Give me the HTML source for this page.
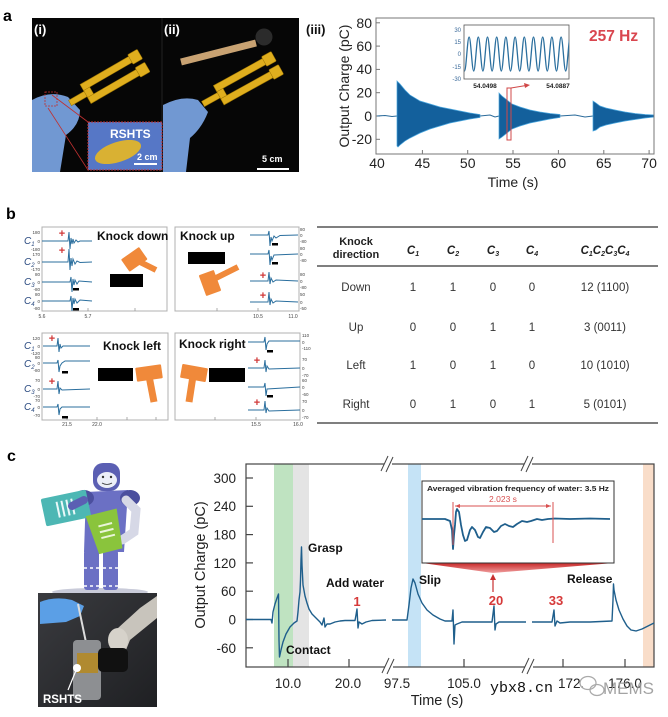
<!DOCTYPE html>
<html><head><meta charset="utf-8"><style>
html,body{margin:0;padding:0;background:#fff;}
svg{display:block;font-family:"Liberation Sans",Arial,sans-serif;}
</style></head><body>
<svg width="668" height="717" viewBox="0 0 668 717" xmlns="http://www.w3.org/2000/svg">
<defs>
<clipPath id="insA"><rect x="464" y="25" width="105" height="54"/></clipPath>
<linearGradient id="fan" x1="0" y1="0" x2="0" y2="1"><stop offset="0" stop-color="#c82828"/><stop offset="1" stop-color="#f0a0a0"/></linearGradient>
<linearGradient id="photoC" x1="0" y1="0" x2="1" y2="1"><stop offset="0" stop-color="#3a3b3f"/><stop offset="1" stop-color="#1f2023"/></linearGradient>
</defs>
<rect width="668" height="717" fill="#fff"/>

<!-- panel labels -->
<text x="3" y="21" font-size="16" font-weight="bold">a</text>
<text x="6" y="219" font-size="16" font-weight="bold">b</text>
<text x="7" y="461" font-size="16" font-weight="bold">c</text>

<!-- ===== Photo a ===== -->
<rect x="32" y="18" width="267" height="154" fill="#060606"/>
<line x1="162" y1="18" x2="162" y2="172" stroke="#222" stroke-width="1"/>
<!-- glove i -->
<path d="M32,100 Q50,90 68,97 L80,110 Q80,125 66,135 L60,172 L32,172Z" fill="#7198d2"/>
<!-- fork i -->
<g transform="translate(70,103) rotate(-30)" fill="#dfae1e" stroke="#9a7200" stroke-width="0.5">
<rect x="0" y="-3" width="20" height="6"/>
<rect x="18" y="-11" width="7" height="22"/>
<rect x="18" y="-11" width="64" height="7"/>
<rect x="18" y="4" width="64" height="7"/>
<rect x="74" y="-13" width="11" height="11" rx="1"/>
<rect x="74" y="2" width="11" height="11" rx="1"/>
</g>
<!-- inset i -->
<line x1="52" y1="95" x2="88" y2="122" stroke="#c03030" stroke-width="0.8"/>
<line x1="48" y1="108" x2="88" y2="170" stroke="#c03030" stroke-width="0.8"/>
<rect x="45" y="92" width="12" height="14" fill="none" stroke="#c03030" stroke-width="0.8" stroke-dasharray="2,1"/>
<rect x="88" y="122" width="74" height="48" fill="#5677c6"/>
<ellipse cx="118" cy="152" rx="24" ry="10" transform="rotate(-18 118 152)" fill="#d9b133"/>
<rect x="88" y="122" width="74" height="48" fill="none" stroke="#c03030" stroke-width="1" stroke-dasharray="2,1"/>
<text x="110" y="138" font-size="12" font-weight="bold" fill="#fff">RSHTS</text>
<text x="137" y="160" font-size="9" font-weight="bold" fill="#fff">2 cm</text>
<line x1="134" y1="164" x2="157" y2="164" stroke="#fff" stroke-width="2"/>
<!-- glove ii -->
<path d="M163,105 Q182,95 198,100 L208,112 Q202,128 190,138 L186,172 L163,172Z" fill="#7198d2"/>
<!-- fork ii -->
<g transform="translate(203,104) rotate(-29)" fill="#dfae1e" stroke="#9a7200" stroke-width="0.5">
<rect x="0" y="-3" width="20" height="6"/>
<rect x="18" y="-11" width="7" height="22"/>
<rect x="18" y="-11" width="64" height="7"/>
<rect x="18" y="4" width="64" height="7"/>
<rect x="74" y="-13" width="11" height="11" rx="1"/>
<rect x="74" y="2" width="11" height="11" rx="1"/>
</g>
<line x1="181" y1="62" x2="256" y2="43" stroke="#c8a272" stroke-width="7"/>
<circle cx="264" cy="37" r="8.5" fill="#2b2b2b"/>
<text x="262" y="162" font-size="9" font-weight="bold" fill="#fff">5 cm</text>
<line x1="257" y1="169" x2="289" y2="169" stroke="#fff" stroke-width="2"/>
<text x="34" y="34" font-size="13" font-weight="bold" fill="#fff">(i)</text>
<text x="164" y="34" font-size="13" font-weight="bold" fill="#fff">(ii)</text>
<text x="306" y="34" font-size="13" font-weight="bold" fill="#111">(iii)</text>

<!-- ===== Chart a(iii) ===== -->
<g font-size="14" fill="#222">
<text x="372" y="28" text-anchor="end">80</text>
<text x="372" y="51" text-anchor="end">60</text>
<text x="372" y="74" text-anchor="end">40</text>
<text x="372" y="97.5" text-anchor="end">20</text>
<text x="372" y="121" text-anchor="end">0</text>
<text x="372" y="144" text-anchor="end">-20</text>
<text x="377" y="168" text-anchor="middle">40</text>
<text x="422.4" y="168" text-anchor="middle">45</text>
<text x="467.7" y="168" text-anchor="middle">50</text>
<text x="513" y="168" text-anchor="middle">55</text>
<text x="558.4" y="168" text-anchor="middle">60</text>
<text x="603.8" y="168" text-anchor="middle">65</text>
<text x="649.1" y="168" text-anchor="middle">70</text>
<text x="513" y="187" text-anchor="middle">Time (s)</text>
<text x="349" y="86" text-anchor="middle" transform="rotate(-90 349 86)">Output Charge (pC)</text>
</g>
<g stroke="#777" stroke-width="1">
<line x1="376" y1="22.8" x2="380" y2="22.8"/><line x1="376" y1="46.1" x2="380" y2="46.1"/>
<line x1="376" y1="69.4" x2="380" y2="69.4"/><line x1="376" y1="92.7" x2="380" y2="92.7"/>
<line x1="376" y1="116" x2="380" y2="116"/><line x1="376" y1="139.3" x2="380" y2="139.3"/>
<line x1="422.4" y1="154" x2="422.4" y2="150"/><line x1="467.7" y1="154" x2="467.7" y2="150"/>
<line x1="513" y1="154" x2="513" y2="150"/><line x1="558.4" y1="154" x2="558.4" y2="150"/>
<line x1="603.8" y1="154" x2="603.8" y2="150"/><line x1="649.1" y1="154" x2="649.1" y2="150"/>
</g>
<path d="M377,116 L385,115.5 L392,116.5 L397,116 M480,116 L490,115 L495,117 L499,116 M560,116 L575,115 L585,117 L593,116" stroke="#2a6a9a" stroke-width="1" fill="none"/>
<g fill="#13609c" stroke="#4aa6de" stroke-width="0.7">
<polygon points="397,81 400,84 405,90 410,95 415,98 420,101 430,104 440,107 450,109 460,111 470,113 480,114.5 480,117.5 470,119 460,121 450,123 440,126 430,129 420,133 410,138 405,141 400,145 398,147 397,146"/>
<polygon points="499,93 502,96 507,100 512,104 520,107 530,110 540,112 550,113.5 560,114.5 560,117.5 550,119 540,121 530,123 520,126 512,129 507,133 502,137 499,139"/>
<polygon points="593,101 596,103 600,106 606,108 615,110 625,112 635,113.5 645,114.5 654,115 654,117 645,118 635,119.5 625,121 615,123 606,125 600,127 596,130 593,131"/>
</g>
<rect x="376" y="18" width="278" height="136" fill="none" stroke="#777" stroke-width="1"/>
<text x="589" y="41" font-size="15.5" font-weight="bold" fill="#d9464f">257 Hz</text>
<!-- inset a -->
<rect x="464" y="25" width="105" height="54" fill="#fff" stroke="#555" stroke-width="0.8"/>
<path clip-path="url(#insA)" fill="none" stroke="#2b6f9e" stroke-width="1.3" d="M464.5,71 C466.2,71 467.4,37 469.1,37 S472,71 473.7,71 S476.6,37 478.3,37 S481.2,71 482.9,71 S485.8,37 487.5,37 S490.4,71 492.1,71 S495,37 496.7,37 S499.6,71 501.3,71 S504.2,37 505.9,37 S508.8,71 510.5,71 S513.4,37 515.1,37 S518,71 519.7,71 S522.6,37 524.3,37 S527.2,71 528.9,71 S531.8,37 533.5,37 S536.4,71 538.1,71 S541,37 542.7,37 S545.6,71 547.3,71 S550.2,37 551.9,37 S554.8,71 556.5,71 S559.4,37 561.1,37 S564,71 565.7,71 S568.6,37 570.3,37"/>
<g font-size="6" fill="#3a6a9a" text-anchor="end">
<text x="461" y="32">30</text><text x="461" y="44">15</text><text x="461" y="56">0</text><text x="461" y="69">-15</text><text x="461" y="81">-30</text>
</g>
<g font-size="6.5" font-weight="bold" fill="#222" text-anchor="middle">
<text x="485" y="88">54.0498</text><text x="558" y="88">54.0887</text>
</g>
<rect x="507" y="88" width="4" height="52" fill="none" stroke="#d04848" stroke-width="1"/>
<line x1="511" y1="88" x2="526" y2="85.5" stroke="#d04848" stroke-width="1"/>
<polygon points="530,85 524,83 525,88" fill="#d04848"/>

<!-- ===== Panel b small charts ===== -->
<g fill="none" stroke="#b0b0b0" stroke-width="1">
<rect x="42" y="227" width="125" height="84"/>
<rect x="175" y="227" width="124" height="84"/>
<rect x="42" y="333" width="126" height="87"/>
<rect x="175" y="333" width="125" height="87"/>
</g>
<g font-size="12" font-weight="bold" fill="#111">
<text x="97" y="240">Knock down</text>
<text x="180" y="240">Knock up</text>
<text x="103" y="350">Knock left</text>
<text x="179" y="348">Knock right</text>
</g>
<g font-size="10" font-style="italic" fill="#2a4a80">
<text x="24" y="244">C<tspan font-size="6" dy="2">1</tspan></text>
<text x="24" y="265">C<tspan font-size="6" dy="2">2</tspan></text>
<text x="24" y="285">C<tspan font-size="6" dy="2">3</tspan></text>
<text x="24" y="304">C<tspan font-size="6" dy="2">4</tspan></text>
<text x="24" y="349">C<tspan font-size="6" dy="2">1</tspan></text>
<text x="24" y="367">C<tspan font-size="6" dy="2">2</tspan></text>
<text x="24" y="392">C<tspan font-size="6" dy="2">3</tspan></text>
<text x="24" y="410">C<tspan font-size="6" dy="2">4</tspan></text>
</g>
<g font-size="4.5" fill="#444" text-anchor="end">
<text x="40" y="234">180</text><text x="40" y="243">0</text><text x="40" y="251">-180</text>
<text x="40" y="256">170</text><text x="40" y="264">0</text><text x="40" y="271">-170</text>
<text x="40" y="276">80</text><text x="40" y="284">0</text><text x="40" y="291">-80</text>
<text x="40" y="296">80</text><text x="40" y="303">0</text><text x="40" y="310">-80</text>
<text x="40" y="340">120</text><text x="40" y="348">0</text><text x="40" y="355">-120</text>
<text x="40" y="359">80</text><text x="40" y="365">0</text><text x="40" y="372">-80</text>
<text x="40" y="382">70</text><text x="40" y="391">0</text><text x="40" y="398">-70</text>
<text x="40" y="402">70</text><text x="40" y="409">0</text><text x="40" y="417">-70</text>
</g>
<g font-size="4.5" fill="#444">
<text x="300" y="231">80</text><text x="300" y="237">0</text><text x="300" y="243">-80</text>
<text x="300" y="250">80</text><text x="300" y="256">0</text><text x="300" y="262">-80</text>
<text x="300" y="276">80</text><text x="300" y="283">0</text><text x="300" y="289">-80</text>
<text x="300" y="296">50</text><text x="300" y="304">0</text><text x="300" y="310">-50</text>
<text x="302" y="337">110</text><text x="302" y="344">0</text><text x="302" y="350">-110</text>
<text x="302" y="361">70</text><text x="302" y="370">0</text><text x="302" y="377">-70</text>
<text x="302" y="382">60</text><text x="302" y="389">0</text><text x="302" y="396">-60</text>
<text x="302" y="403">70</text><text x="302" y="412">0</text><text x="302" y="419">-70</text>
</g>
<g font-size="5" fill="#444" text-anchor="middle">
<text x="42" y="318">5.6</text><text x="88" y="318">5.7</text>
<text x="258" y="318">10.5</text><text x="293" y="318">11.0</text>
<text x="67" y="426">21.5</text><text x="97" y="426">22.0</text>
<text x="256" y="426">15.5</text><text x="298" y="426">16.0</text>
</g>
<g stroke="#999" stroke-width="0.8">
<line x1="88" y1="311" x2="88" y2="308"/><line x1="135" y1="311" x2="135" y2="308"/>
<line x1="217" y1="311" x2="217" y2="308"/><line x1="258" y1="311" x2="258" y2="308"/>
<line x1="67" y1="420" x2="67" y2="417"/><line x1="97" y1="420" x2="97" y2="417"/><line x1="127" y1="420" x2="127" y2="417"/><line x1="156" y1="420" x2="156" y2="417"/>
<line x1="215" y1="420" x2="215" y2="417"/><line x1="256" y1="420" x2="256" y2="417"/>
</g>
<g fill="none" stroke="#2b6f9e" stroke-width="1">
<path d="M42,241 L68,241 L69,232 L70,249 L71,238 L72,244 L73,239 L74,243 L76,240 L78,242 L80,241 L92,241"/>
<path d="M42,262 L68,262 L69,249 L70,270 L71,258 L72,266 L73,259 L75,264 L77,261 L80,262.5 L92,262"/>
<path d="M42,282 L70,282 L71,277 L72,292 L73,279 L74,285 L75,280 L77,284 L79,281 L92,282"/>
<path d="M42,301 L70,301 L71,296 L72,311 L73,298 L74,304 L75,299 L77,303 L80,300 L92,301"/>
<path d="M250,235 L268,235 L269,231 L270,246 L271,237 L272,241 L274,236 L276,238 L280,235.5 L298,235"/>
<path d="M250,254 L268,254 L269,250 L270,265 L271,256 L272,260 L274,255 L298,254"/>
<path d="M250,281 L268,281 L269,272 L270,284 L271,278 L273,282 L276,280 L298,281"/>
<path d="M250,302 L268,302 L269,292 L270,305 L271,299 L273,303 L276,301 L298,302"/>
<path d="M43,346 L57,346 L58,338 L59,352 L60,344 L61,348 L63,346 L90,346"/>
<path d="M43,363 L57,363 L58,360 L59,372 L60,366 L62,363 L65,361 L90,361"/>
<path d="M43,389 L57,389 L58,381 L59,394 L60,388 L62,390 L90,389"/>
<path d="M43,407 L57,407 L58,404 L59,415 L60,409 L62,407 L90,407"/>
<path d="M248,342 L264,342 L265,337 L266,350 L267,344 L269,341 L300,341"/>
<path d="M248,368 L264,368 L265,360 L266,372 L267,366 L269,369 L300,368"/>
<path d="M248,387 L264,387 L265,383 L266,396 L267,389 L300,387"/>
<path d="M248,410 L264,410 L265,401 L266,413 L267,408 L269,411 L300,410"/>
</g>
<g fill="#d03838" font-size="11" font-weight="bold" text-anchor="middle">
<text x="62" y="237">+</text><text x="62" y="254">+</text>
<text x="263" y="279">+</text><text x="263" y="299">+</text>
<text x="52" y="342">+</text><text x="52" y="385">+</text>
<text x="257" y="364">+</text><text x="257" y="406">+</text>
</g>
<g fill="#000">
<rect x="73" y="288" width="6" height="2.5"/><rect x="73" y="308" width="6" height="2.5"/>
<rect x="272" y="243" width="6" height="2.5"/><rect x="272" y="262" width="6" height="2.5"/>
<rect x="62" y="371" width="6" height="2.5"/><rect x="62" y="416" width="6" height="2.5"/>
<rect x="267" y="350" width="6" height="2.5"/><rect x="267" y="395" width="6" height="2.5"/>
<rect x="110" y="274" width="33" height="13"/>
<rect x="188" y="252" width="37" height="12"/>
<rect x="98" y="368" width="35" height="13"/>
<rect x="209" y="368" width="36" height="14"/>
</g>
<g fill="#f0893a">
<g transform="rotate(-35 134 259)"><rect x="123" y="252" width="22" height="15" rx="1"/></g>
<line x1="140" y1="262" x2="156" y2="270" stroke="#f0893a" stroke-width="6"/>
<g transform="rotate(-20 210 283)"><rect x="202" y="272" width="16" height="22" rx="1"/></g>
<line x1="214" y1="279" x2="238" y2="267" stroke="#f0893a" stroke-width="6"/>
<g transform="rotate(-8 149 373)"><rect x="136" y="366" width="26" height="14" rx="1"/></g>
<line x1="149" y1="376" x2="154" y2="402" stroke="#f0893a" stroke-width="7"/>
<g transform="rotate(10 194 373)"><rect x="181" y="366" width="26" height="14" rx="1"/></g>
<line x1="193" y1="376" x2="189" y2="402" stroke="#f0893a" stroke-width="7"/>
</g>

<!-- ===== Table ===== -->
<g stroke="#333" stroke-width="1.2">
<line x1="317" y1="227" x2="658" y2="227"/>
<line x1="317" y1="266" x2="658" y2="266"/>
<line x1="317" y1="423" x2="658" y2="423"/>
</g>
<g font-size="11" font-weight="bold" fill="#222" text-anchor="middle">
<text x="356" y="245">Knock</text>
<text x="356" y="258">direction</text>
</g>
<g font-size="11.5" font-weight="bold" font-style="italic" fill="#222" text-anchor="middle">
<text x="413" y="254">C<tspan font-size="7" dy="2">1</tspan></text>
<text x="453" y="254">C<tspan font-size="7" dy="2">2</tspan></text>
<text x="493" y="254">C<tspan font-size="7" dy="2">3</tspan></text>
<text x="532" y="254">C<tspan font-size="7" dy="2">4</tspan></text>
<text x="605" y="254">C<tspan font-size="7" dy="2">1</tspan><tspan dy="-2">C</tspan><tspan font-size="7" dy="2">2</tspan><tspan dy="-2">C</tspan><tspan font-size="7" dy="2">3</tspan><tspan dy="-2">C</tspan><tspan font-size="7" dy="2">4</tspan></text>
</g>
<g font-size="11.5" fill="#333" text-anchor="middle">
<text x="356" y="291">Down</text><text x="413" y="291">1</text><text x="453" y="291">1</text><text x="493" y="291">0</text><text x="532" y="291">0</text><text x="605" y="291">12 (1100)</text>
<text x="356" y="331">Up</text><text x="413" y="331">0</text><text x="453" y="331">0</text><text x="493" y="331">1</text><text x="532" y="331">1</text><text x="605" y="331">3 (0011)</text>
<text x="356" y="369">Left</text><text x="413" y="369">1</text><text x="453" y="369">0</text><text x="493" y="369">1</text><text x="532" y="369">0</text><text x="605" y="369">10 (1010)</text>
<text x="356" y="408">Right</text><text x="413" y="408">0</text><text x="453" y="408">1</text><text x="493" y="408">0</text><text x="532" y="408">1</text><text x="605" y="408">5 (0101)</text>
</g>

<!-- ===== Robot illustration ===== -->
<ellipse cx="100" cy="592" rx="48" ry="4" fill="#c9cbd9"/>
<rect x="84" y="550" width="15" height="40" rx="3" fill="#6b70c4"/>
<rect x="103" y="550" width="15" height="40" rx="3" fill="#6b70c4"/>
<g stroke="#fff" stroke-width="1.5" stroke-dasharray="3,3"><line x1="84" y1="568" x2="99" y2="568"/><line x1="103" y1="568" x2="118" y2="568"/><line x1="84" y1="586" x2="99" y2="586"/><line x1="103" y1="586" x2="118" y2="586"/></g>
<path d="M86,492 L128,490 L124,552 L84,552 Z" fill="#6b70c4"/>
<ellipse cx="84" cy="498" rx="10" ry="8" fill="#4b4f9e"/>
<ellipse cx="130" cy="498" rx="10" ry="8" fill="#4b4f9e"/>
<rect x="93" y="463" width="27" height="28" rx="10" fill="#5b5fb3"/>
<ellipse cx="107" cy="480" rx="10" ry="8" fill="#eceef8"/>
<circle cx="103" cy="477" r="1.2" fill="#333"/><circle cx="111" cy="477" r="1.2" fill="#333"/>
<path d="M102,483 Q107,486 112,483" stroke="#333" stroke-width="0.8" fill="none"/>
<path d="M126,500 L136,510 L134,532 L122,540" stroke="#d6d8e6" stroke-width="9" fill="none" stroke-linecap="round"/>
<g transform="rotate(-12 66 508)"><rect x="43" y="494" width="46" height="28" rx="2" fill="#4db7b4"/>
<g stroke="#e8f8f8" stroke-width="2"><line x1="58" y1="500" x2="58" y2="516"/><line x1="63" y1="500" x2="63" y2="516"/><line x1="68" y1="500" x2="68" y2="516"/><line x1="73" y1="500" x2="73" y2="516"/></g></g>
<g transform="rotate(-14 105 532)"><path d="M90,512 L122,512 L118,552 L94,552 Z" fill="#8ac43c"/>
<g stroke="#eaf5d8" stroke-width="2"><line x1="100" y1="525" x2="114" y2="525"/><line x1="100" y1="531" x2="114" y2="531"/><line x1="100" y1="537" x2="114" y2="537"/></g></g>
<path d="M84,500 L72,506" stroke="#5b5fb3" stroke-width="8" stroke-linecap="round"/>

<!-- ===== Photo c ===== -->
<rect x="38" y="593" width="119" height="114" fill="url(#photoC)"/>
<path d="M40,602 Q55,596 72,600 L84,606 L80,616 L66,622 L40,624 Z" fill="#5b9fe6"/>
<line x1="78" y1="604" x2="88" y2="652" stroke="#dcdcdc" stroke-width="2"/>
<path d="M157,596 L157,618 L130,640 L122,660 L112,650 L118,628 L140,608 Z" fill="#c8c4bc"/>
<ellipse cx="118" cy="640" rx="10" ry="12" fill="#d6d2ca"/>
<rect x="73" y="640" width="28" height="60" rx="4" fill="#8d8f92"/>
<rect x="77" y="653" width="21" height="20" fill="#b08a30"/>
<rect x="98" y="648" width="30" height="24" rx="5" fill="#111"/>
<line x1="77" y1="668" x2="68" y2="690" stroke="#fff" stroke-width="1.2"/>
<circle cx="77" cy="668" r="4" fill="#fff"/>
<text x="43" y="703" font-size="11.5" font-weight="bold" fill="#fff">RSHTS</text>

<!-- ===== Chart c ===== -->
<rect x="274" y="464" width="19" height="203" fill="#bfe3c1"/>
<rect x="293" y="464" width="16" height="203" fill="#e4e4e4"/>
<rect x="408" y="464" width="13" height="203" fill="#c5e3f6"/>
<rect x="643" y="464" width="11" height="203" fill="#f9ddc9"/>
<rect x="246" y="464" width="408" height="203" fill="none" stroke="#444" stroke-width="1.2"/>
<g stroke="#444" stroke-width="1.2">
<line x1="246" y1="478" x2="253" y2="478"/><line x1="246" y1="506.3" x2="253" y2="506.3"/>
<line x1="246" y1="534.6" x2="253" y2="534.6"/><line x1="246" y1="562.9" x2="253" y2="562.9"/>
<line x1="246" y1="591.2" x2="253" y2="591.2"/><line x1="246" y1="619.5" x2="253" y2="619.5"/>
<line x1="246" y1="647.8" x2="253" y2="647.8"/>
<line x1="288" y1="667" x2="288" y2="659"/><line x1="349" y1="667" x2="349" y2="659"/>
<line x1="464" y1="667" x2="464" y2="659"/><line x1="563" y1="667" x2="563" y2="659"/>
<line x1="625" y1="667" x2="625" y2="659"/>
</g>
<!-- breaks -->
<g fill="#fff"><rect x="384" y="462" width="8" height="4"/><rect x="385" y="665" width="8" height="4"/><rect x="524" y="462" width="8" height="4"/><rect x="525" y="665" width="8" height="4"/></g>
<g stroke="#444" stroke-width="1">
<line x1="381" y1="471" x2="388" y2="456"/><line x1="386" y1="472" x2="393" y2="457"/>
<line x1="382" y1="673" x2="389" y2="658"/><line x1="387" y1="674" x2="394" y2="659"/>
<line x1="521" y1="471" x2="528" y2="456"/><line x1="526" y1="472" x2="533" y2="457"/>
<line x1="522" y1="673" x2="529" y2="658"/><line x1="527" y1="674" x2="534" y2="659"/>
</g>
<g fill="none" stroke="#1f5f8c" stroke-width="1.4" stroke-linejoin="round">
<path d="M246,619.5 L271,619.5 L272,623 L273,612 L275,604 L277,598 L278.5,594 L279,640 L279.5,657 L281,650 L283,642 L286,634 L290,627 L294,623 L297,621 L298,612 L299,600 L300,592 L300.5,580 L301,560 L301.5,547 L302,565 L303,585 L305,596 L307,603 L309,609 L312,614 L315,617 L318,620 L320,622 L322,625 L324,618 L325,627 L327,624 L330,624 L335,622 L340,621 L345,620.5 L355,620.5 L356,615 L357,609 L358,628 L359,622 L362,624 L366,622 L372,620.5 L386,620"/>
<path d="M392,620 L407,620 L409,605 L411,588 L413,579 L415,583 L418,594 L422,603 L427,610 L433,615 L440,619 L445,621 L452,621 L453,610 L454,644 L455,625 L457,624 L462,622 L470,622 L480,622 L492,622 L493,614 L494,606 L495,630 L496,624 L499,622 L510,622 L526,622"/>
<path d="M532,622 L552,622 L553,616 L554,610 L555,626 L557,621 L560,623 L570,622 L590,622 L612,621 L613,600 L613.5,584 L614,590 L616,600 L619,610 L623,619 L627,626 L631,630 L636,631 L642,629 L648,626 L654,623"/>
</g>
<g font-size="13.5" fill="#222" text-anchor="end">
<text x="236" y="483">300</text><text x="236" y="511">240</text><text x="236" y="539.5">180</text>
<text x="236" y="568">120</text><text x="236" y="596">60</text><text x="236" y="624.5">0</text><text x="236" y="653">-60</text>
</g>
<g font-size="13.5" fill="#222" text-anchor="middle">
<text x="288" y="688">10.0</text><text x="348" y="688">20.0</text><text x="397" y="688">97.5</text>
<text x="464" y="688">105.0</text><text x="625" y="688">176.0</text>
</g>
<text x="437" y="705" font-size="14.5" fill="#222" text-anchor="middle">Time (s)</text>
<text x="205" y="565" font-size="14.5" fill="#222" text-anchor="middle" transform="rotate(-90 205 565)">Output Charge (pC)</text>
<g font-size="12" font-weight="bold" fill="#111">
<text x="308" y="552">Grasp</text>
<text x="326" y="587">Add water</text>
<text x="419" y="584">Slip</text>
<text x="567" y="583">Release</text>
<text x="286" y="654">Contact</text>
</g>
<g font-size="13" font-weight="bold" fill="#d63a3a" text-anchor="middle">
<text x="357" y="606">1</text><text x="496" y="605">20</text><text x="556" y="605">33</text>
</g>
<!-- inset c -->
<polygon points="422,563 614,563 493,573" fill="url(#fan)"/>
<line x1="493" y1="592" x2="493" y2="579" stroke="#c83030" stroke-width="1.2"/>
<polygon points="493,574 490,580 496,580" fill="#c83030"/>
<rect x="422" y="481" width="192" height="82" fill="#fff" stroke="#333" stroke-width="1"/>
<text x="518" y="491" font-size="7.5" font-weight="bold" fill="#222" text-anchor="middle" textLength="182" lengthAdjust="spacingAndGlyphs">Averaged vibration frequency of water: 3.5 Hz</text>
<path fill="none" stroke="#1f5f8c" stroke-width="1.8" stroke-linejoin="round" d="M422,519 L445,519 L450,521 L452,530 L453,549 L454,535 L455,525 L456,512 L457,509 L459,512 L461,525 L463,535 L465,541 L467,540 L470,530 L472,527 L475,530 L478,537 L480,538 L483,532 L486,527 L490,528 L494,532 L497,531 L501,526 L505,524 L509,526 L513,527 L517,524 L522,521 L527,522 L531,521 L537,519 L542,520 L548,519 L555,518.5 L570,519 L590,518.5 L610,519"/>
<g stroke="#d85050" stroke-width="1" fill="none">
<line x1="453" y1="502" x2="453" y2="545"/>
<line x1="553" y1="502" x2="553" y2="543"/>
<line x1="455" y1="506" x2="551" y2="506"/>
</g>
<polygon points="455,506 460,504 460,508" fill="#d85050"/>
<polygon points="551,506 546,504 546,508" fill="#d85050"/>
<text x="503" y="502" font-size="8.5" fill="#d85050" text-anchor="middle">2.023 s</text>

<!-- watermark -->
<rect x="488" y="679" width="70" height="16" fill="#fff"/>
<text x="490" y="692" font-family="Liberation Mono, monospace" font-size="15" fill="#111">ybx8.cn</text>
<text x="558" y="688" font-size="13.5" fill="#222">172.</text>
<g fill="none" stroke="#aaa" stroke-width="1.3">
<ellipse cx="588" cy="683" rx="8" ry="6.5"/>
<ellipse cx="597" cy="690" rx="7" ry="5.5"/>
</g>
<text x="603" y="694" font-size="17" fill="#9a9a9a" opacity="0.9">MEMS</text>
</svg>
</body></html>
